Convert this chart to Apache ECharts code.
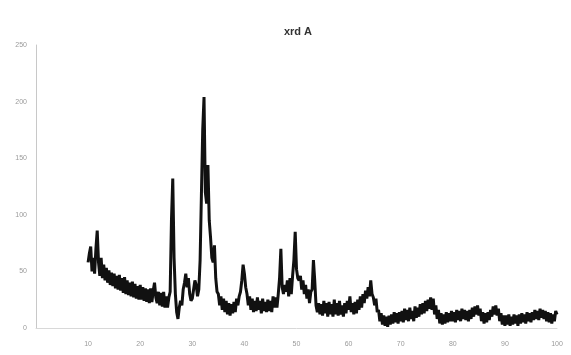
<!DOCTYPE html>
<html>
<head>
<meta charset="utf-8">
<script src="https://cdn.jsdelivr.net/npm/echarts@6/dist/echarts.min.js"></script>
<style>
  html, body { margin: 0; padding: 0; background: #fff; }
  #chart { width: 571px; height: 355px; }
</style>
</head>
<body>
<div id="chart"></div>
<script>
// Powder XRD scan of sample A: intensity in counts, sampled every 0.25 deg 2-theta
const chartTitle = 'xrd A';
const angleStart = 10;
const angleStep = 0.25;
const xTicks = [10, 20, 30, 40, 50, 60, 70, 80, 90, 100];
const yTicks = [0, 50, 100, 150, 200, 250];

const intensity = [
  // 10.00 - 14.75
  58, 66, 72, 50, 62, 48, 70, 86, 58, 46, 62, 44, 56, 42, 53, 40, 51, 38, 49, 37,
  // 15.00 - 19.75
  48, 35, 46, 34, 47, 33, 44, 31, 45, 30, 42, 29, 40, 28, 41, 27, 39, 26, 37, 25,
  // 20.00 - 24.75
  38, 25, 36, 24, 35, 23, 34, 22, 35, 23, 33, 40, 27, 22, 32, 20, 31, 19, 32, 18,
  // 25.00 - 29.75
  28, 18, 27, 32, 95, 132, 62, 30, 14, 8, 18, 24, 20, 34, 40, 48, 36, 44, 30, 24,
  // 30.00 - 34.75
  26, 34, 42, 38, 28, 34, 60, 118, 175, 204, 120, 110, 144, 95, 80, 62, 58, 73, 44, 32,
  // 35.00 - 39.75
  30, 20, 28, 16, 26, 14, 24, 12, 22, 11, 21, 13, 23, 14, 26, 20, 28, 32, 42, 56,
  // 40.00 - 44.75
  48, 36, 30, 20, 28, 16, 26, 14, 24, 15, 27, 16, 24, 13, 26, 15, 23, 14, 25, 15,
  // 45.00 - 49.75
  24, 14, 28, 18, 27, 18, 30, 44, 70, 36, 30, 38, 32, 42, 28, 44, 30, 46, 60, 85,
  // 50.00 - 54.75
  52, 44, 42, 46, 34, 42, 30, 38, 26, 34, 22, 32, 34, 60, 42, 20, 14, 22, 12, 21,
  // 55.00 - 59.75
  11, 24, 13, 22, 10, 23, 12, 21, 10, 25, 12, 22, 11, 24, 12, 20, 10, 22, 13, 24,
  // 60.00 - 64.75
  16, 28, 14, 22, 12, 23, 13, 25, 16, 28, 18, 30, 22, 33, 26, 36, 28, 42, 30, 27,
  // 65.00 - 69.75
  20, 26, 14, 16, 6, 13, 3, 11, 2, 10, 1, 11, 3, 12, 4, 14, 5, 13, 4, 14,
  // 70.00 - 74.75
  6, 15, 5, 17, 7, 16, 6, 18, 8, 15, 6, 19, 9, 18, 10, 21, 12, 22, 13, 24,
  // 75.00 - 79.75
  15, 25, 17, 27, 16, 26, 12, 20, 8, 16, 4, 13, 3, 12, 4, 14, 5, 13, 6, 15,
  // 80.00 - 84.75
  6, 14, 5, 16, 7, 15, 6, 17, 8, 16, 7, 15, 6, 16, 8, 18, 10, 19, 12, 20,
  // 85.00 - 89.75
  11, 17, 6, 14, 4, 13, 5, 14, 7, 16, 10, 19, 12, 20, 11, 17, 6, 13, 3, 11,
  // 90.00 - 94.75
  2, 11, 3, 12, 2, 10, 3, 12, 4, 11, 2, 12, 4, 13, 5, 12, 4, 14, 6, 13,
  // 95.00 - 99.75
  5, 14, 7, 16, 8, 15, 7, 17, 9, 16, 8, 15, 6, 14, 5, 13, 4, 12, 6, 15,
  // 100.00
  12
];

const points = intensity.map((v, i) => [angleStart + i * angleStep, v]);

const chart = echarts.init(document.getElementById('chart'), null, { renderer: 'canvas' });
chart.setOption({
  animation: false,
  backgroundColor: '#ffffff',
  title: {
    text: chartTitle,
    left: 293,
    textAlign: 'center',
    top: 21,
    textStyle: { fontFamily: 'Liberation Sans, Arial, sans-serif', fontSize: 11, fontWeight: 'bold', color: '#333' }
  },
  grid: { left: 36, right: 14, top: 45, bottom: 27, containLabel: false },
  xAxis: {
    type: 'value',
    min: 0,
    max: 100,
    interval: 10,
    axisLine: { show: true, lineStyle: { color: '#d8d8d8', width: 1 } },
    axisTick: { show: false },
    splitLine: { show: false },
    axisLabel: {
      margin: 13,
      fontSize: 7,
      color: '#9a9a9a',
      fontFamily: 'Liberation Sans, Arial, sans-serif',
      formatter: v => (xTicks.indexOf(v) >= 0 ? String(v) : '')
    }
  },
  yAxis: {
    type: 'value',
    min: 0,
    max: 250,
    interval: 50,
    axisLine: { show: true, lineStyle: { color: '#c8c8c8', width: 1 } },
    axisTick: { show: false },
    splitLine: { show: false },
    axisLabel: {
      margin: 9,
      fontSize: 7,
      color: '#9a9a9a',
      fontFamily: 'Liberation Sans, Arial, sans-serif',
      formatter: v => (yTicks.indexOf(v) >= 0 ? String(v) : '')
    }
  },
  series: [{
    type: 'line',
    data: points,
    showSymbol: false,
    lineStyle: { color: '#111111', width: 3 },
    z: 3
  }]
});
</script>
</body>
</html>
